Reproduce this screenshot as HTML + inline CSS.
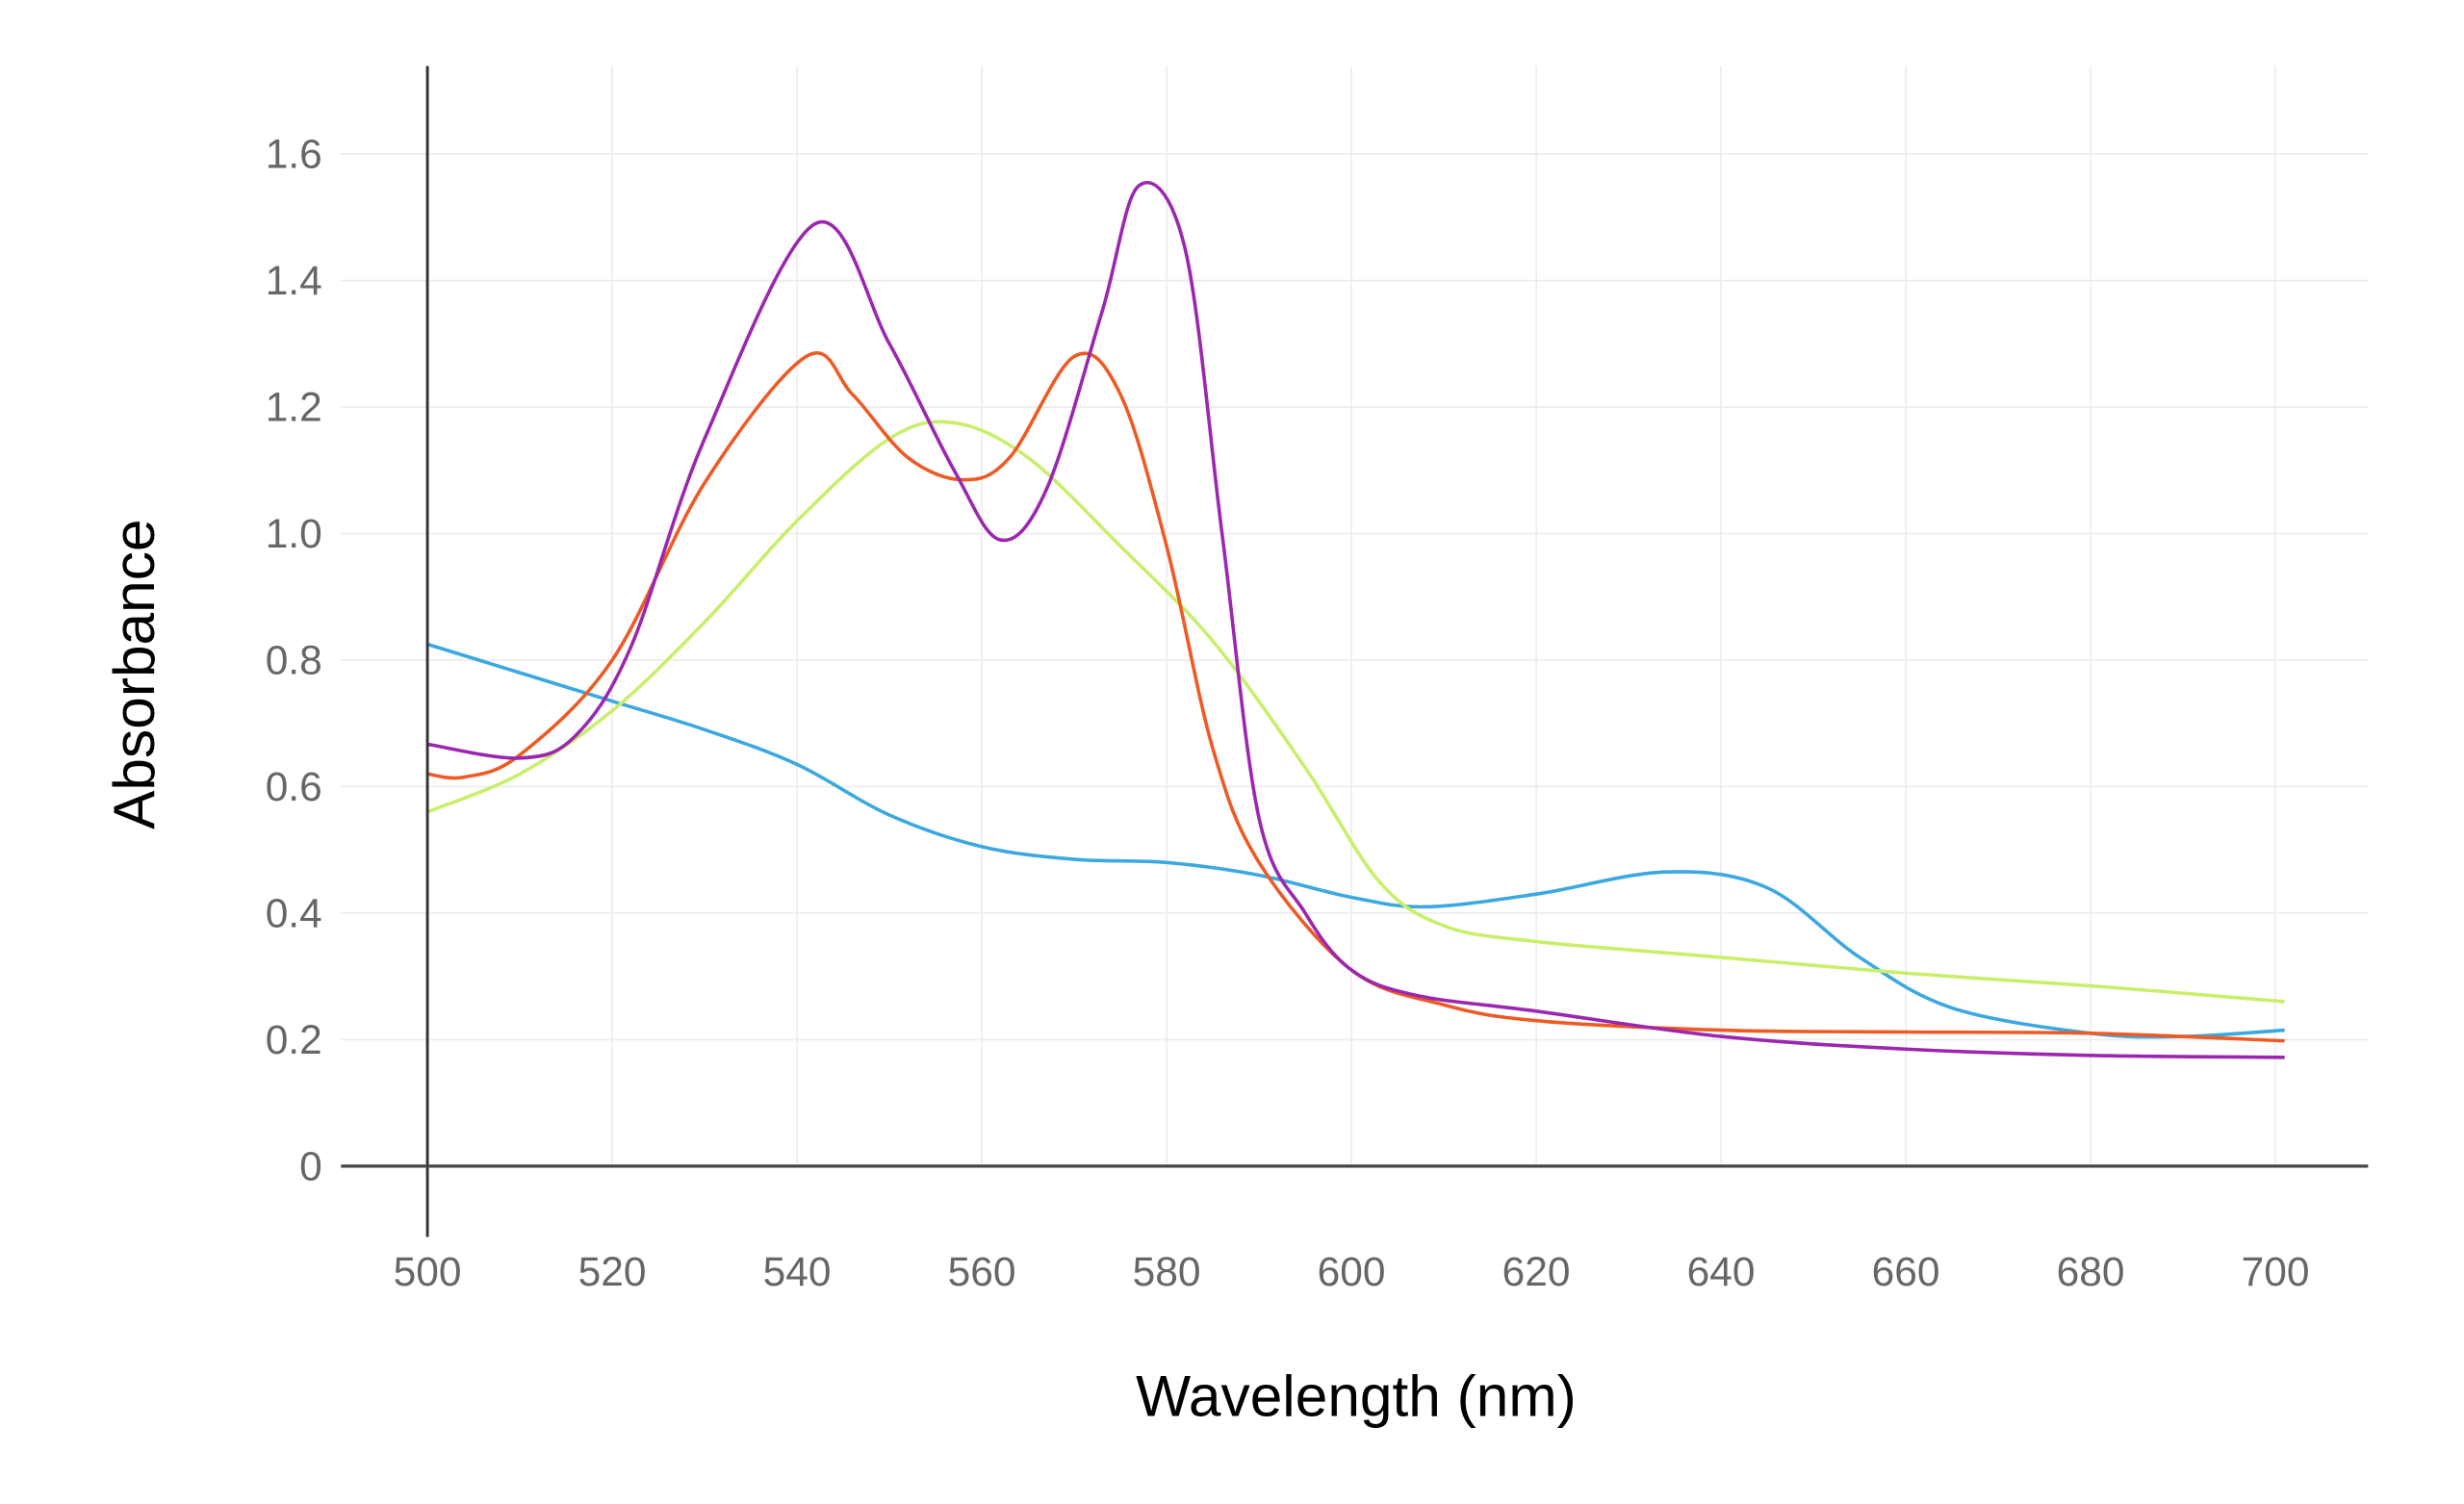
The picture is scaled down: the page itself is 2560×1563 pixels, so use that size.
<!DOCTYPE html>
<html><head><meta charset="utf-8"><style>html,body{margin:0;padding:0;background:#fff}svg{display:block}</style></head>
<body>
<svg id="s" width="2560" height="1563" viewBox="0 0 1568 957" preserveAspectRatio="none" xmlns="http://www.w3.org/2000/svg" font-family="Liberation Sans, sans-serif">
<g id="grid" stroke="#ececec" stroke-width="1"></g>
<g id="lab" fill="#666" font-size="26"></g>
<g id="series" fill="none" stroke-width="2.2"></g>
<line x1="272" y1="42" x2="272" y2="787" stroke="#333" stroke-width="1.8"/>
<line x1="217" y1="742" x2="1507" y2="742" stroke="#444" stroke-width="2"/>
<text x="863" y="901" font-size="37" text-anchor="middle" fill="#000">Wavelength (nm)</text>
<text transform="translate(98,429) rotate(-90)" font-size="37" text-anchor="middle" fill="#000">Absorbance</text>
</svg>
<script>
const X=n=>272+(n-500)*5.88, Y=a=>742-a*402.5;
const NS="http://www.w3.org/2000/svg";
const g=document.getElementById('grid'),l=document.getElementById('lab'),se=document.getElementById('series');
function el(p,t,a,txt){const e=document.createElementNS(NS,t);for(const k in a)e.setAttribute(k,a[k]);if(txt!=null)e.textContent=txt;p.appendChild(e);return e;}
for(let n=500;n<=700;n+=20){el(g,'line',{x1:X(n),x2:X(n),y1:42,y2:742});el(l,'text',{x:X(n),y:818,'text-anchor':'middle'},String(n));}
for(let i=1;i<=8;i++){const a=i*0.2;el(g,'line',{x1:217,x2:1507,y1:Y(a),y2:Y(a)});el(l,'text',{x:205,y:Y(a)+9,'text-anchor':'end'},a.toFixed(1));}
el(l,'text',{x:205,y:751,'text-anchor':'end'},'0');
const S={
"#3ba8e0":[[500,.825],[510,.78],[520,.735],[530,.69],[540,.635],[550,.555],[560,.505],[570,.485],[580,.48],[590,.46],[600,.425],[608,.41],[620,.43],[634,.465],[645,.44],[655,.33],[665,.25],[680,.21],[690,.205],[701,.215]],
"#c8ef6a":[[500,.56],[510,.62],[520,.72],[530,.86],[540,1.02],[550,1.15],[557,1.175],[565,1.12],[575,.98],[585,.83],[595,.63],[603,.45],[610,.38],[620,.355],[640,.33],[660,.305],[680,.285],[701,.26]],
"#ee5a24":[[500,.62],[504,.615],[510,.65],[520,.8],[530,1.08],[541,1.28],[546,1.22],[552,1.12],[558,1.085],[563,1.12],[570,1.28],[575,1.22],[580,.98],[585,.66],[590,.48],[600,.31],[610,.255],[620,.23],[640,.215],[660,.212],[680,.21],[701,.198]],
"#9b27af":[[500,.667],[510,.645],[516,.68],[522,.82],[530,1.15],[542,1.49],[550,1.3],[557,1.1],[562,.99],[567,1.07],[573,1.35],[577,1.55],[582,1.45],[586,1.0],[590,.55],[595,.4],[600,.31],[607,.27],[620,.245],[640,.205],[660,.185],[680,.175],[701,.172]]};
for(const c in S){const p=S[c].map(d=>[X(d[0]),Y(d[1])]);let d='M'+p[0];
for(let i=0;i<p.length-1;i++){const p0=p[Math.max(0,i-1)],p1=p[i],p2=p[i+1],p3=p[Math.min(p.length-1,i+2)];
const c1=[p1[0]+(p2[0]-p0[0])/6,p1[1]+(p2[1]-p0[1])/6],c2=[p2[0]-(p3[0]-p1[0])/6,p2[1]-(p3[1]-p1[1])/6];
d+=' C'+c1+' '+c2+' '+p2;}
el(se,'path',{d:d,stroke:c});}
</script>
</body></html>
